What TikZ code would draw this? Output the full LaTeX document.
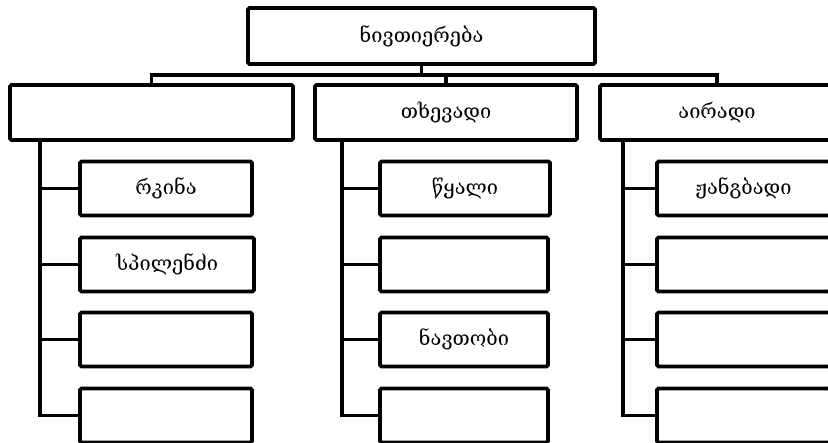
\documentclass[tikz,border=0pt]{standalone}
\usepackage{fontspec}
\setmainfont{DejaVu Serif}
\begin{document}
\begin{tikzpicture}[x=1pt,y=-1pt,
  box/.style={draw=black,line width=3.6pt,rounded corners=1.5pt,fill=white,inner sep=0pt,
     font=\fontsize{20}{22}\selectfont},
  toplvl/.style={box,minimum width=347pt,minimum height=56pt},
  midlvl/.style={box,minimum height=55pt},
  leaf/.style={box,minimum height=54pt},
  conn/.style={line width=3.6pt,line cap=butt}]
\useasboundingbox (0,0) rectangle (828,443);
% top
\node[toplvl] (top) at (421.5,36) {ნივთიერება};
% level 2
\node[midlvl,minimum width=283pt] (c1) at (151.5,112.5) {};
\node[midlvl,minimum width=262pt] (c2) at (446,112.5) {თხევადი};
\node[midlvl,minimum width=234pt] (c3) at (717,112.5) {აირადი};
% leaves
\node[leaf,minimum width=172pt] (l1) at (166,188.5) {რკინა};
\node[leaf,minimum width=174pt] (l2) at (167,264.5) {სპილენძი};
\node[leaf,minimum width=172pt] (l3) at (166,339.5) {};
\node[leaf,minimum width=172pt] (l4) at (166,415.5) {};
\node[leaf,minimum width=170pt] (m1) at (465,188.5) {წყალი};
\node[leaf,minimum width=168pt] (m2) at (464,264.5) {};
\node[leaf,minimum width=168pt] (m3) at (464,339.5) {ნავთობი};
\node[leaf,minimum width=168pt] (m4) at (464,415.5) {};
\node[leaf,minimum width=173pt] (r1) at (743.5,188.5) {ჟანგბადი};
\node[leaf,minimum width=173pt] (r2) at (743.5,264.5) {};
\node[leaf,minimum width=173pt] (r3) at (743.5,339.5) {};
\node[leaf,minimum width=173pt] (r4) at (743.5,415.5) {};
% connectors
\coordinate (bus) at (0,75);
\foreach \c in {c1,c2,c3}
  \draw[conn] (top.south) -- (top.south |- bus) -| (\c.north);
\coordinate (sl) at (40,140);
\coordinate (sm) at (342,140);
\coordinate (sr) at (623,140);
\foreach \n in {l1,l2,l3,l4} \draw[conn] (sl) |- (\n.west);
\foreach \n in {m1,m2,m3,m4} \draw[conn] (sm) |- (\n.west);
\foreach \n in {r1,r2,r3,r4} \draw[conn] (sr) |- (\n.west);
\end{tikzpicture}
\end{document}
